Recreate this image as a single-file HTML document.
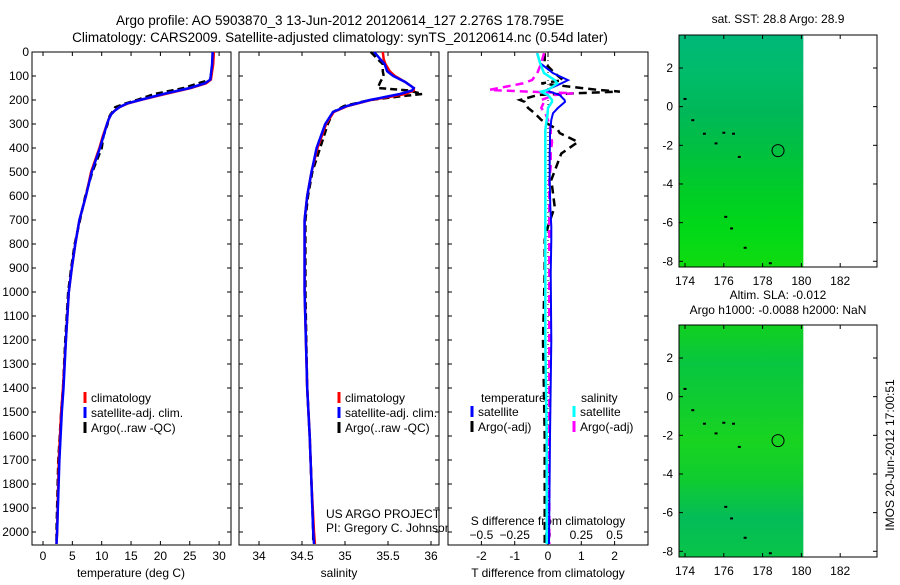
<!DOCTYPE html>
<html><head><meta charset="utf-8"><style>
body{margin:0;background:#fff;width:900px;height:580px;overflow:hidden}
svg{font-family:"Liberation Sans",sans-serif;font-size:12px}
</style></head><body>
<svg id="c" width="900" height="580">
<text x="340" y="25" text-anchor="middle" font-size="13.5">Argo profile: AO 5903870_3 13-Jun-2012 20120614_127 2.276S 178.795E</text>
<text x="340" y="42" text-anchor="middle" font-size="13.5">Climatology: CARS2009. Satellite-adjusted climatology: synTS_20120614.nc (0.54d later)</text>
<g id="g"></g>
</svg>
<script>
// ---- data ----
const depthT = [0,50,115,130,150,175,200,215,230,245,260,280,300,350,400,500,600,700,800,900,1000,1200,1400,1500,1700,2000,2050];
const tempClim = [29.1,29.0,28.6,27.8,25.2,20.8,16.6,14.4,13.0,12.2,11.6,11.2,10.9,10.2,9.6,8.2,7.3,6.2,5.5,4.9,4.4,3.9,3.4,3.1,2.7,2.4,2.3];
const tempSat  = [28.9,28.8,28.5,27.6,25.0,20.5,16.5,14.3,13.0,12.2,11.6,11.2,10.9,10.3,9.7,8.3,7.3,6.2,5.5,4.9,4.4,3.9,3.5,3.2,2.8,2.4,2.3];
const tempArgo = [29.0,28.9,28.5,26.5,24.0,19.0,16.0,14.0,12.3,12.0,11.5,11.1,11.0,10.3,10.0,8.4,7.2,6.3,5.4,4.8,4.3,3.8,3.4,3.1,2.6,2.3,2.3];
const depthS = [0,30,50,80,100,125,150,160,175,185,200,225,250,300,400,500,600,700,1000,1400,1600,1800,2000,2050];
const salClim = [35.44,35.45,35.47,35.52,35.58,35.70,35.80,35.80,35.70,35.55,35.30,35.03,34.87,34.78,34.68,34.61,34.56,34.53,34.53,34.56,34.59,34.61,34.64,34.65];
const salSat  = [35.34,35.41,35.46,35.49,35.56,35.70,35.80,35.78,35.64,35.50,35.29,35.02,34.86,34.77,34.67,34.61,34.56,34.53,34.53,34.56,34.59,34.61,34.63,34.64];
const salArgo = [35.30,35.38,35.44,35.44,35.45,35.41,35.38,35.74,35.90,35.64,35.29,34.99,34.86,34.80,34.71,34.62,34.57,34.54,34.54,34.56,34.59,34.61,34.63,34.63];
const depthD = [5,46,88,117,131,158,165,172,179,200,208,233,255,283,325,338,375,423,478,533,645,727,783,922,1200,1600,2050];
const dTsat  = [-0.33,-0.24,0.15,0.6,0.4,-0.03,0.05,0.2,0.35,0.5,0.51,0.3,0.15,0.1,0.07,0.06,0.06,0.05,0.05,0.05,0.07,0.1,0.1,0.08,0.1,0.06,0.03];
const dTargo = [-0.1,-0.1,0.2,0.45,-0.2,1.5,2.16,0.8,-0.3,-0.84,-0.7,-0.6,-0.4,-0.2,0.3,0.35,0.9,0.4,0.25,0.1,0.2,0.0,-0.1,-0.1,-0.15,-0.1,-0.1];
const dSsat  = [-0.08,-0.06,-0.03,0.05,0.07,0.0,-0.05,-0.03,0.0,0.03,0.03,0.0,-0.003,-0.01,-0.02,-0.02,-0.02,-0.02,-0.02,-0.02,-0.02,-0.02,-0.02,-0.02,-0.02,-0.01,-0.01];
const dSargo = [-0.03,-0.05,-0.08,-0.12,-0.19,-0.44,-0.15,0.19,0.05,-0.05,-0.03,-0.05,-0.02,0.0,0.02,0.02,0.03,0.02,0.02,0.01,0.01,0.01,0.01,0.01,0.01,0.01,0.01];
const depthTicks = [0,100,200,300,400,500,600,700,800,900,1000,1100,1200,1300,1400,1500,1600,1700,1800,1900,2000];
const tempTicks = [0,5,10,15,20,25,30];
const salTicks = [34,34.5,35,35.5,36];
const salTickLabels = ["34","34.5","35","35.5","36"];
const dTTicks = [-2,-1,0,1,2];
const dSTicks = [-0.5,-0.25,0,0.25,0.5];
const latTicks = [2,0,-2,-4,-6,-8];
const lonTicks = [174,176,178,180,182];
const argoLon = 178.795, argoLat = -2.276;

const NS="http://www.w3.org/2000/svg";
const G=document.getElementById('g');
function mk(tag,attrs,parent){const e=document.createElementNS(NS,tag);for(const k in attrs)e.setAttribute(k,attrs[k]);(parent||G).appendChild(e);return e;}
function txt(x,y,s,anchor,parent){const t=mk('text',{x:x,y:y,'text-anchor':anchor||'middle'},parent);t.textContent=s;return t;}
const yD = d => 52 + d*0.24;
const xT = t => 43 + t*5.87;
const xS = s => 259 + (s-34)*86;
const xdT = v => 548 + v*33.3;
const xdS = v => 548 + v*133.2;

function panel(x0,x1,name){const r=mk('rect',{x:x0,y:52,width:x1-x0,height:493,fill:'#fff',stroke:'#000','stroke-width':1});}
function line(xs,ds,fx,color,dash,w,name){
  const pts=xs.map((v,i)=>fx(v).toFixed(1)+','+yD(ds[i]).toFixed(1)).join(' ');
  const p=mk('polyline',{points:pts,fill:'none',stroke:color,'stroke-width':w||2.5});
  if(dash)p.setAttribute('stroke-dasharray',dash);
  
  
}
function depthAxis(x0,x1,labels){
  depthTicks.forEach(d=>{
    mk('line',{x1:x0,y1:yD(d),x2:x0+4,y2:yD(d),stroke:'#000'});
    mk('line',{x1:x1,y1:yD(d),x2:x1-4,y2:yD(d),stroke:'#000'});
    if(labels){const t=txt(x0-3,yD(d)+4,String(d),'end');}
  });
}
function xAxis(ticks,fx,labels,ly){
  ticks.forEach((v,i)=>{
    mk('line',{x1:fx(v),y1:545,x2:fx(v),y2:541,stroke:'#000'});
    mk('line',{x1:fx(v),y1:52,x2:fx(v),y2:56,stroke:'#000'});
    const t=txt(fx(v),ly||560,labels?labels[i]:String(v));
    
    
  });
}
function legEntry(x,y,color,label){
  mk('line',{x1:x,y1:y-10,x2:x,y2:y+1,stroke:color,'stroke-width':3});
  const t=txt(x+6,y,label,'start');
  
  
}

// panel 1 temperature
panel(32,231,'temperature-panel');
depthAxis(32,231,true);
xAxis(tempTicks,xT);
line(tempArgo,depthT,xT,'#000','7,4',2.5,'argo-temperature-line');
line(tempClim,depthT,xT,'#f00',null,2.5,'climatology-temperature-line');
line(tempSat,depthT,xT,'#0000ff',null,2.5,'satellite-temperature-line');
txt(131,577,'temperature (deg C)');
legEntry(85,402,'#f00','climatology');legEntry(85,417,'#0000ff','satellite-adj. clim.');legEntry(85,432,'#000','Argo(..raw -QC)');

// panel 2 salinity
panel(239,439,'salinity-panel');
depthAxis(239,439,false);
xAxis(salTicks,xS,salTickLabels);
line(salArgo,depthS,xS,'#000','7,4',2.5,'argo-salinity-line');
line(salClim,depthS,xS,'#f00',null,2.5,'climatology-salinity-line');
line(salSat,depthS,xS,'#0000ff',null,2.5,'satellite-salinity-line');
txt(339,577,'salinity');
legEntry(339,402,'#f00','climatology');legEntry(339,417,'#0000ff','satellite-adj. clim.');legEntry(339,432,'#000','Argo(..raw -QC)');
txt(326,518,'US ARGO PROJECT','start');
txt(326,532,'PI: Gregory C. Johnson','start');

// panel 3 differences
panel(448,648,'difference-panel');
depthAxis(448,648,false);
xAxis(dTTicks,xdT);
dSTicks.forEach(v=>{const t=txt(xdS(v),539,v===0?'0':(v<0?'\u2212'+Math.abs(v):String(v)));});
txt(548,525,'S difference from climatology');
txt(548,577,'T difference from climatology');
mk('line',{x1:548,y1:52,x2:548,y2:545,stroke:'#000','stroke-dasharray':'1,3'});
line(dTargo,depthD,xdT,'#000','8,5',2.5,'argo-t-diff-line');
line(dSargo,depthD,xdS,'#ff00ff','8,5',2.5,'argo-s-diff-line');
line(dTsat,depthD,xdT,'#0000ff',null,2,'satellite-t-diff-line');
line(dSsat,depthD,xdS,'#00ffff',null,2.5,'satellite-s-diff-line');
txt(481,402,'temperature','start');
txt(581,402,'salinity','start');
legEntry(472,416,'#0000ff','satellite');legEntry(472,431,'#000','Argo(-adj)');
legEntry(574,416,'#00ffff','satellite');legEntry(574,431,'#ff00ff','Argo(-adj)');

// maps
const xL = lon => 685 + (lon-174)*19.4;
function map(top,name,title1,title2,cols){
  const yLat = lat => top+33 + (2-lat)*19.33;
  const g=mk('g',{});
  
  
  mk('rect',{x:679,y:top,width:198,height:232,fill:'#fff',stroke:'#000'},g);
  const gid='grad'+top;
  const lg=mk('linearGradient',{id:gid,x1:0,y1:0,x2:0,y2:1},g);
  cols.forEach((c,i)=>mk('stop',{offset:i/(cols.length-1),'stop-color':c},lg));
  mk('rect',{x:679.5,y:top+0.5,width:xL(180.1)-679.5,height:231,fill:'url(#'+gid+')'},g);
  latTicks.forEach(l=>{mk('line',{x1:679,y1:yLat(l),x2:683,y2:yLat(l),stroke:'#000'},g);mk('line',{x1:877,y1:yLat(l),x2:873,y2:yLat(l),stroke:'#000'},g);txt(673,yLat(l)+4,l<0?'-'+Math.abs(l):String(l),'end',g);});
  lonTicks.forEach(l=>{mk('line',{x1:xL(l),y1:top,x2:xL(l),y2:top+4,stroke:'#000'},g);mk('line',{x1:xL(l),y1:top+232,x2:xL(l),y2:top+228,stroke:'#000'},g);txt(xL(l),top+250,String(l),'middle',g);});
  const c=mk('circle',{cx:xL(argoLon),cy:yLat(argoLat),r:6,fill:'none',stroke:'#000'},g);
  
  
  [[174,0.4],[174.4,-0.7],[175,-1.4],[175.6,-1.9],[176,-1.35],[176.5,-1.4],[176.8,-2.6],[176.1,-5.7],[176.4,-6.3],[177.1,-7.3],[178.4,-8.1]].forEach(p=>mk('rect',{x:xL(p[0])-1.5,y:yLat(p[1])-1,width:3,height:2,fill:'#000'},g));
  if(title2){txt(778,top-26,title1,'middle',g);txt(778,top-11,title2,'middle',g);}else txt(778,top-12,title1,'middle',g);
}
map(35,'sst-map','sat. SST: 28.8 Argo: 28.9',null,['#00b878','#00bc6a','#00b858','#00c040','#00cc28','#00d818','#10dc10']);
map(325,'sla-map','Altim. SLA: -0.012','Argo h1000: -0.0088 h2000: NaN',['#10d020','#08c640','#10cc30','#18d420','#10cc30','#04bc58','#08c448']);
const im=txt(0,0,'IMOS 20-Jun-2012 17:00:51','middle');
im.setAttribute('transform','translate(894,455) rotate(-90)');


</script>
</body></html>
